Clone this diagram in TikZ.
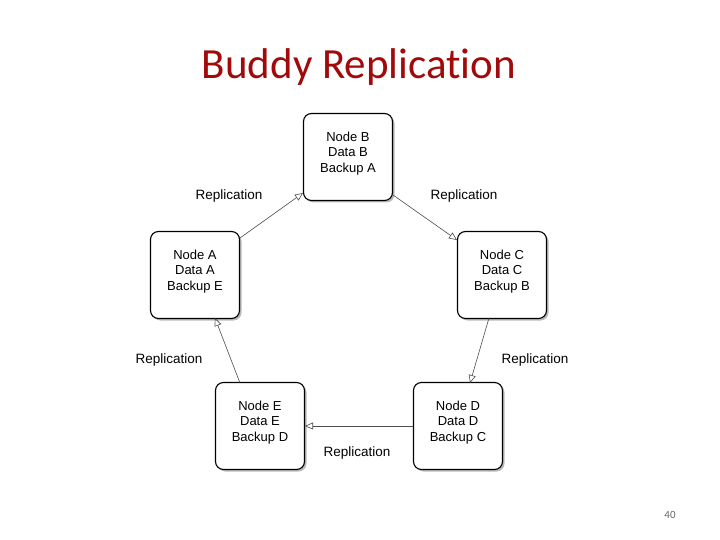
\documentclass[tikz,border=0pt]{standalone}
\usepackage{fontspec}
\setmainfont{Liberation Sans}
\newfontfamily\titlefont[Ligatures={NoCommon}]{Carlito}
\usetikzlibrary{arrows.meta,shadows}
\definecolor{titlered}{RGB}{160,10,10}
\tikzset{
  box/.style={draw=black,line width=1.1pt,fill=white,rounded corners=8pt,minimum width=89pt,minimum height=87pt,align=center,font=\fontsize{13}{15.5}\selectfont,text depth=10pt,drop shadow={shadow xshift=2pt,shadow yshift=-2pt,opacity=0.55}},
  conn/.style={draw=black!70,line width=0.6pt,-{Triangle[open,length=8pt,width=7pt]}},
  lbl/.style={font=\fontsize{13.5}{15}\selectfont}
}
\begin{document}
\begin{tikzpicture}[x=1pt,y=-1pt]
\useasboundingbox (0,0) rectangle (720,540);
\node[font=\titlefont\fontsize{43}{48}\selectfont,text=titlered] (title) at (359,67) {Buddy Replication};
\node[box] (B) at (348,157) {Node B\\Data B\\Backup A};
\node[box] (A) at (195,275) {Node A\\Data A\\Backup E};
\node[box] (C) at (502,275) {Node C\\Data C\\Backup B};
\node[box] (E) at (260,426) {Node E\\Data E\\Backup D};
\node[box] (D) at (458,426) {Node D\\Data D\\Backup C};
\coordinate (b1) at (303,193); \coordinate (a1) at (240,238);
\coordinate (b2) at (393,195); \coordinate (c2) at (457,240);
\coordinate (c3) at (489,318); \coordinate (d3) at (470,383);
\coordinate (d4) at (413,426); \coordinate (e4) at (305,426);
\coordinate (e5) at (240,383); \coordinate (a5) at (215,318);
\draw[conn] (a1) -- (b1);
\draw[conn] (b2) -- (c2);
\draw[conn] (c3) -- (d3);
\draw[conn] (d4) -- (e4);
\draw[conn] (e5) -- (a5);
\node[lbl] (l1) at (229,196) {Replication};
\node[lbl] (l2) at (464,196) {Replication};
\node[lbl] (l3) at (169,360) {Replication};
\node[lbl] (l4) at (535,360) {Replication};
\node[lbl] (l5) at (357,453) {Replication};
\node[font=\titlefont\fontsize{11}{12}\selectfont,text=black!60] (pg) at (670,515) {40};
\end{tikzpicture}
\end{document}
